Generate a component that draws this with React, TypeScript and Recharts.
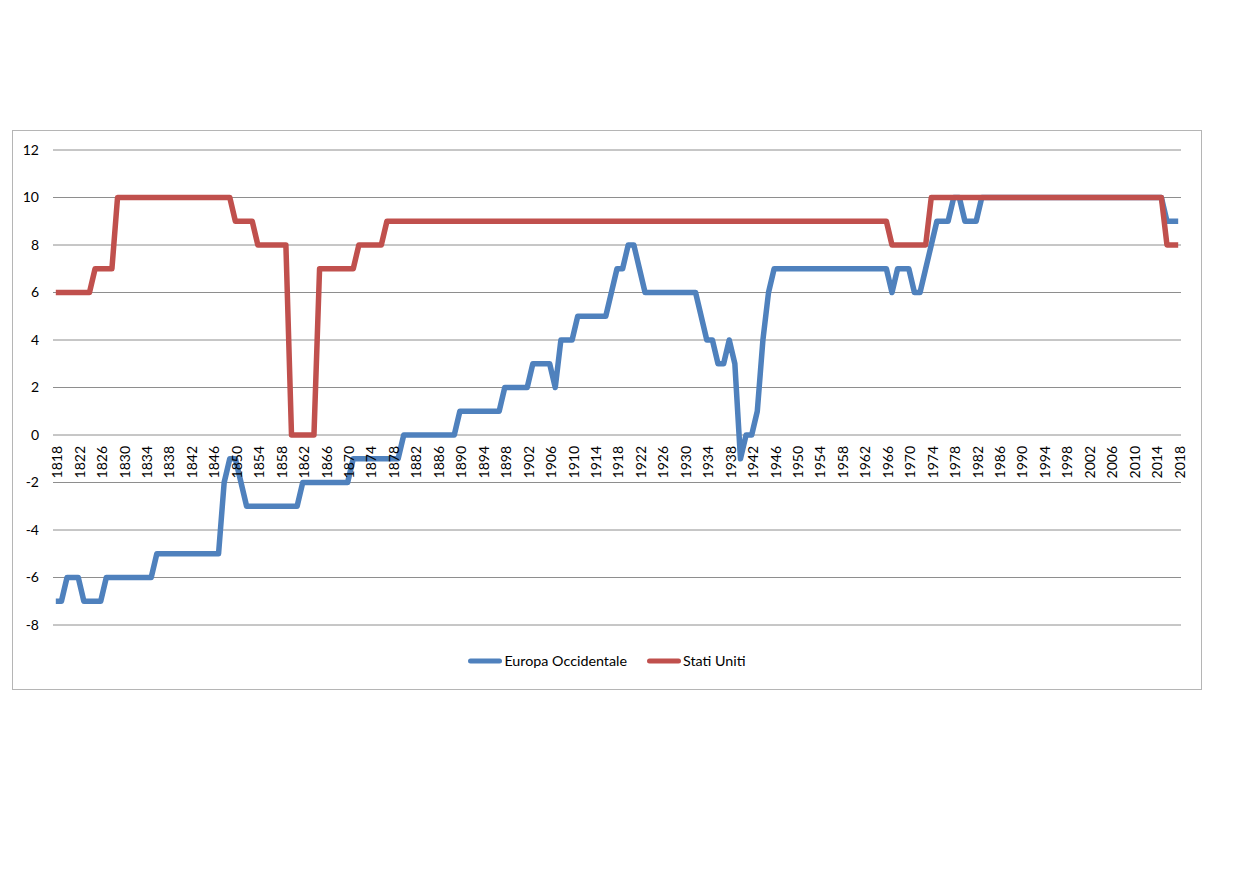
import React from 'react';
import { LineChart, Line, XAxis, YAxis, CartesianGrid, Legend } from 'recharts';

const START_YEAR = 1818;

// Europa Occidentale, one value per year 1818..2018 (rows of 10 years)
const europaOccidentale: number[] = [
  -7, -7, -6, -6, -6, -7, -7, -7, -7, -6, // 1818
  -6, -6, -6, -6, -6, -6, -6, -6, -5, -5, // 1828
  -5, -5, -5, -5, -5, -5, -5, -5, -5, -5, // 1838
  -2, -1, -1, -2, -3, -3, -3, -3, -3, -3, // 1848
  -3, -3, -3, -3, -2, -2, -2, -2, -2, -2, // 1858
  -2, -2, -2, -1, -1, -1, -1, -1, -1, -1, // 1868
  -1, -1, 0, 0, 0, 0, 0, 0, 0, 0, // 1878
  0, 0, 1, 1, 1, 1, 1, 1, 1, 1, // 1888
  2, 2, 2, 2, 2, 3, 3, 3, 3, 2, // 1898
  4, 4, 4, 5, 5, 5, 5, 5, 5, 6, // 1908
  7, 7, 8, 8, 7, 6, 6, 6, 6, 6, // 1918
  6, 6, 6, 6, 6, 5, 4, 4, 3, 3, // 1928
  4, 3, -1, 0, 0, 1, 4, 6, 7, 7, // 1938
  7, 7, 7, 7, 7, 7, 7, 7, 7, 7, // 1948
  7, 7, 7, 7, 7, 7, 7, 7, 7, 6, // 1958
  7, 7, 7, 6, 6, 7, 8, 9, 9, 9, // 1968
  10, 10, 9, 9, 9, 10, 10, 10, 10, 10, // 1978
  10, 10, 10, 10, 10, 10, 10, 10, 10, 10, // 1988
  10, 10, 10, 10, 10, 10, 10, 10, 10, 10, // 1998
  10, 10, 10, 10, 10, 10, 10, 10, 9, 9, // 2008
  9, // 2018
];

// Stati Uniti, one value per year 1818..2018
const statiUniti: number[] = [
  6, 6, 6, 6, 6, 6, 6, 7, 7, 7, // 1818
  7, 10, 10, 10, 10, 10, 10, 10, 10, 10, // 1828
  10, 10, 10, 10, 10, 10, 10, 10, 10, 10, // 1838
  10, 10, 9, 9, 9, 9, 8, 8, 8, 8, // 1848
  8, 8, 0, 0, 0, 0, 0, 7, 7, 7, // 1858
  7, 7, 7, 7, 8, 8, 8, 8, 8, 9, // 1868
  9, 9, 9, 9, 9, 9, 9, 9, 9, 9, // 1878
  9, 9, 9, 9, 9, 9, 9, 9, 9, 9, // 1888
  9, 9, 9, 9, 9, 9, 9, 9, 9, 9, // 1898
  9, 9, 9, 9, 9, 9, 9, 9, 9, 9, // 1908
  9, 9, 9, 9, 9, 9, 9, 9, 9, 9, // 1918
  9, 9, 9, 9, 9, 9, 9, 9, 9, 9, // 1928
  9, 9, 9, 9, 9, 9, 9, 9, 9, 9, // 1938
  9, 9, 9, 9, 9, 9, 9, 9, 9, 9, // 1948
  9, 9, 9, 9, 9, 9, 9, 9, 9, 8, // 1958
  8, 8, 8, 8, 8, 8, 10, 10, 10, 10, // 1968
  10, 10, 10, 10, 10, 10, 10, 10, 10, 10, // 1978
  10, 10, 10, 10, 10, 10, 10, 10, 10, 10, // 1988
  10, 10, 10, 10, 10, 10, 10, 10, 10, 10, // 1998
  10, 10, 10, 10, 10, 10, 10, 10, 8, 8, // 2008
  8, // 2018
];

const xTicks = [
  1818, 1822, 1826, 1830, 1834, 1838, 1842, 1846, 1850, 1854, 1858, 1862, 1866,
  1870, 1874, 1878, 1882, 1886, 1890, 1894, 1898, 1902, 1906, 1910, 1914, 1918,
  1922, 1926, 1930, 1934, 1938, 1942, 1946, 1950, 1954, 1958, 1962, 1966, 1970,
  1974, 1978, 1982, 1986, 1990, 1994, 1998, 2002, 2006, 2010, 2014, 2018,
];
const yTicks = [-8, -6, -4, -2, 0, 2, 4, 6, 8, 10, 12];

const SERIES_EU = 'Europa Occidentale';
const SERIES_US = 'Stati Uniti';
const COLOR_EU = '#4F81BD';
const COLOR_US = '#C0504D';

const data = europaOccidentale.map((v, i) => ({
  year: START_YEAR + i,
  eu: v,
  us: statiUniti[i],
}));

const FONT = 'Lato, "Noto Sans", sans-serif';
const TICK_FS = 14;
const CHART_W = 1188;
const CHART_H = 558;
const M_TOP = 19;
const M_RIGHT = 20;
const M_BOTTOM = 34;
const X_AXIS_H = 30;
const Y_MIN = -8;
const Y_MAX = 12;
const PLOT_H = CHART_H - M_TOP - M_BOTTOM - X_AXIS_H;
const ZERO_Y = M_TOP + (PLOT_H * Y_MAX) / (Y_MAX - Y_MIN);

const XTick = (props: any) => {
  const { x, payload } = props;
  return (
    <text
      transform={`translate(${x + 1.5}, ${ZERO_Y + 11}) rotate(-90)`}
      textAnchor="end"
      dy="0.35em"
      fontFamily={FONT}
      fontSize={TICK_FS}
      fill="#000"
    >
      {payload.value}
    </text>
  );
};

const LegendContent = (props: any) => {
  const { payload } = props;
  return (
    <div
      style={{
        display: 'flex',
        justifyContent: 'center',
        alignItems: 'center',
        gap: 20,
        fontFamily: FONT,
        fontSize: 14.3,
        color: '#000',
      }}
    >
      {(payload || []).map((p: any) => (
        <div key={p.value} style={{ display: 'flex', alignItems: 'center' }}>
          <svg width={34} height={8} style={{ display: 'block' }}>
            <line x1={2.5} y1={4} x2={31.5} y2={4} stroke={p.color} strokeWidth={5} strokeLinecap="round" />
          </svg>
          <span style={{ marginLeft: 2 }}>{p.value}</span>
        </div>
      ))}
    </div>
  );
};

export default function App() {
  return (
    <div style={{ position: 'relative', width: 1224, height: 858, background: '#fff' }}>
      <div
        style={{
          position: 'absolute',
          left: 4,
          top: 122,
          width: CHART_W,
          height: CHART_H,
          border: '1px solid #B5B5B5',
          background: '#fff',
        }}
      >
        <LineChart
          width={CHART_W}
          height={CHART_H}
          data={data}
          margin={{ top: M_TOP, right: M_RIGHT, bottom: M_BOTTOM, left: 0 }}
        >
          <CartesianGrid vertical={false} stroke="#8E8E8E" strokeWidth={1} />
          <XAxis
            dataKey="year"
            type="number"
            domain={[1817.5, 2018.5]}
            ticks={xTicks}
            interval={0}
            tickLine={false}
            axisLine={false}
            height={X_AXIS_H}
            tick={(p: any) => <XTick {...p} />}
          />
          <YAxis
            domain={[Y_MIN, Y_MAX]}
            ticks={yTicks}
            tickLine={false}
            axisLine={false}
            width={40}
            tickMargin={8}
            tick={{ fontFamily: FONT, fontSize: TICK_FS, fill: '#000' }}
          />
          <Legend
            layout="horizontal"
            verticalAlign="middle"
            align="center"
            wrapperStyle={{ top: 521, left: 0, width: CHART_W }}
            content={(p: any) => <LegendContent {...p} />}
          />
          <Line
            type="linear"
            dataKey="eu"
            name={SERIES_EU}
            stroke={COLOR_EU}
            strokeWidth={5.5}
            dot={false}
            strokeLinejoin="round"
            isAnimationActive={false}
          />
          <Line
            type="linear"
            dataKey="us"
            name={SERIES_US}
            stroke={COLOR_US}
            strokeWidth={5.5}
            dot={false}
            strokeLinejoin="round"
            isAnimationActive={false}
          />
        </LineChart>
      </div>
    </div>
  );
}
